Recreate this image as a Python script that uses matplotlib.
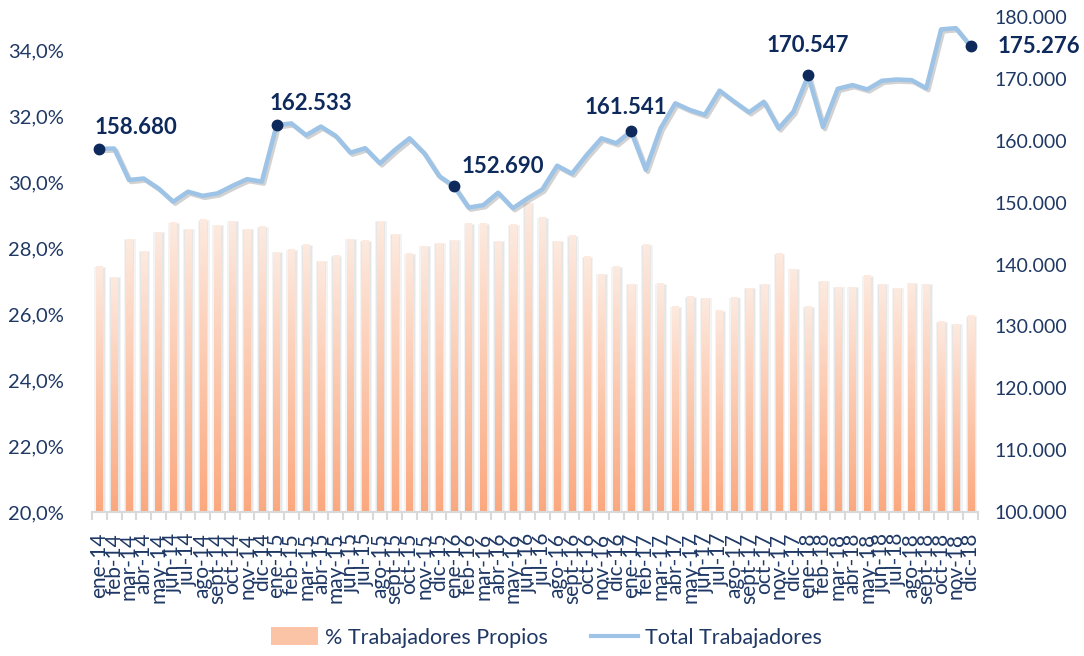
import numpy as np
import matplotlib
matplotlib.use("Agg")
import matplotlib.pyplot as plt
import matplotlib.patheffects as pe
from matplotlib.colors import LinearSegmentedColormap
from matplotlib.patches import Patch
from matplotlib.lines import Line2D

plt.rcParams['font.family'] = ['Lato', 'DejaVu Sans']

# --------------------------------------------------------------------------------
# Data
# --------------------------------------------------------------------------------
month_names = ["ene", "feb", "mar", "abr", "may", "jun",
               "jul", "ago", "sept", "oct", "nov", "dic"]
years = ["14", "15", "16", "17", "18"]
months = [f"{m}-{y}" for y in years for m in month_names]

pct_propios = [
    27.43, 27.11, 28.26, 27.90, 28.48, 28.77, 28.57, 28.85, 28.69, 28.81, 28.57, 28.65,
    27.87, 27.95, 28.10, 27.60, 27.76, 28.26, 28.22, 28.81, 28.41, 27.83, 28.06, 28.14,
    28.24, 28.73, 28.73, 28.21, 28.70, 29.36, 28.92, 28.21, 28.37, 27.74, 27.20, 27.43,
    26.90, 28.10, 26.92, 26.22, 26.52, 26.47, 26.10, 26.50, 26.78, 26.90, 27.83, 27.35,
    26.22, 27.00, 26.81, 26.81, 27.16, 26.90, 26.78, 26.93, 26.90, 25.77, 25.69, 25.95,
]

total_trabajadores = [
    158680, 158750, 153660, 153900, 152300, 150150, 151770, 151100, 151500, 152700, 153800, 153400,
    162533, 162800, 160900, 162300, 160800, 158070, 158800, 156350, 158500, 160400, 157970, 154300,
    152690, 149200, 149600, 151600, 149100, 150700, 152150, 155970, 154700, 157700, 160400, 159600,
    161541, 155300, 162000, 166050, 164970, 164200, 168100, 166300, 164600, 166300, 162000, 164700,
    170547, 162200, 168400, 169000, 168300, 169700, 169900, 169800, 168500, 178000, 178200, 175276,
]

# points that carry a marker and a data label
labelled = [0, 12, 24, 36, 48, 59]

# --------------------------------------------------------------------------------
# Styling
# --------------------------------------------------------------------------------
NAVY = "#1F3864"
DARK = "#0E2A5C"
LINE_BLUE = "#9DC3E6"
grad = LinearSegmentedColormap.from_list("peach", ["#FBA87E", "#FDEAE0"])
gradient = np.linspace(0, 1, 256).reshape(-1, 1)

fig = plt.figure(figsize=(10.84, 6.56), dpi=100)
ax = fig.add_axes([92 / 1084, 144 / 656, 886 / 1084, 495 / 656])
ax2 = ax.twinx()

x = np.arange(len(months))
bar_w = 0.42

# soft shadow behind bars
ax.bar(x + 0.06, pct_propios, width=0.80, color="#F3F3F3", zorder=1)
ax.bar(x + 0.06, np.array(pct_propios) - 0.03, width=0.62, color="#E6E6E6", zorder=1.5)
# gradient bars: dark orange at the base, pale at the top
for xi, v in zip(x, pct_propios):
    ax.imshow(gradient, cmap=grad, aspect="auto", origin="lower",
              extent=[xi - bar_w / 2, xi + bar_w / 2, 20, v], zorder=2)

ax.set_xlim(-0.5, len(months) - 0.5)
ax.set_ylim(20, 35)
ax.set_yticks(np.arange(20, 35, 2))
ax.set_yticklabels([f"{t:.1f}%".replace(".", ",") for t in np.arange(20, 35, 2)])

ax.set_xticks(x)
ax.set_xticklabels(months, rotation=90, color=NAVY, fontsize=15)
ax.set_xticks(np.arange(-0.5, len(months), 1), minor=True)
ax.tick_params(axis="x", which="major", length=0, pad=15)
ax.tick_params(axis="x", which="minor", length=6, width=1.5, color="#D9D9D9")
ax.tick_params(axis="y", length=0, pad=20, labelcolor=NAVY, labelsize=14.5)

# line on secondary axis
ax2.plot(x, total_trabajadores, color=LINE_BLUE, lw=3.2, zorder=3,
         path_effects=[pe.SimpleLineShadow(offset=(1.5, -1.5), shadow_color="gray", alpha=0.35),
                       pe.Normal()])
ax2.plot([x[i] for i in labelled], [total_trabajadores[i] for i in labelled],
         "o", color=DARK, ms=7.5, zorder=4)

label_offsets = {0: (-5, 21, "left"), 12: (-7, 22, "left"), 24: (8, 19, "left"),
                 36: (-5, 24, "center"), 48: (0, 30, "center"), 59: (27, 0, "left")}
for i in labelled:
    dx, dy, ha = label_offsets[i]
    ax2.annotate(f"{total_trabajadores[i]:,}".replace(",", "."),
                 (x[i], total_trabajadores[i]), xytext=(dx, dy),
                 textcoords="offset pixels", ha=ha, va="center",
                 fontsize=16, fontweight="bold", color=DARK)

ax2.set_ylim(100000, 180000)
ax2.set_yticks(np.arange(100000, 180001, 10000))
ax2.set_yticklabels([f"{int(t):,}".replace(",", ".") for t in np.arange(100000, 180001, 10000)])
ax2.tick_params(axis="y", length=0, pad=12, labelcolor=NAVY, labelsize=14)

for a in (ax, ax2):
    for s in ("top", "left", "right"):
        a.spines[s].set_visible(False)
ax.spines["bottom"].set_color("#D9D9D9")
ax.spines["bottom"].set_linewidth(1.5)
ax2.spines["bottom"].set_visible(False)

handles = [Patch(facecolor="#FCC4A6", edgecolor="none"),
           Line2D([0], [0], color=LINE_BLUE, lw=3)]
fig.legend(handles, ["% Trabajadores Propios", "Total Trabajadores"],
           loc="center", bbox_to_anchor=(0.504, 0.028), ncol=2, frameon=False,
           fontsize=15.5, labelcolor=NAVY, handlelength=2.2, handleheight=0.9,
           columnspacing=2.0, handletextpad=0.3)

fig.savefig("out.png", dpi=100)
